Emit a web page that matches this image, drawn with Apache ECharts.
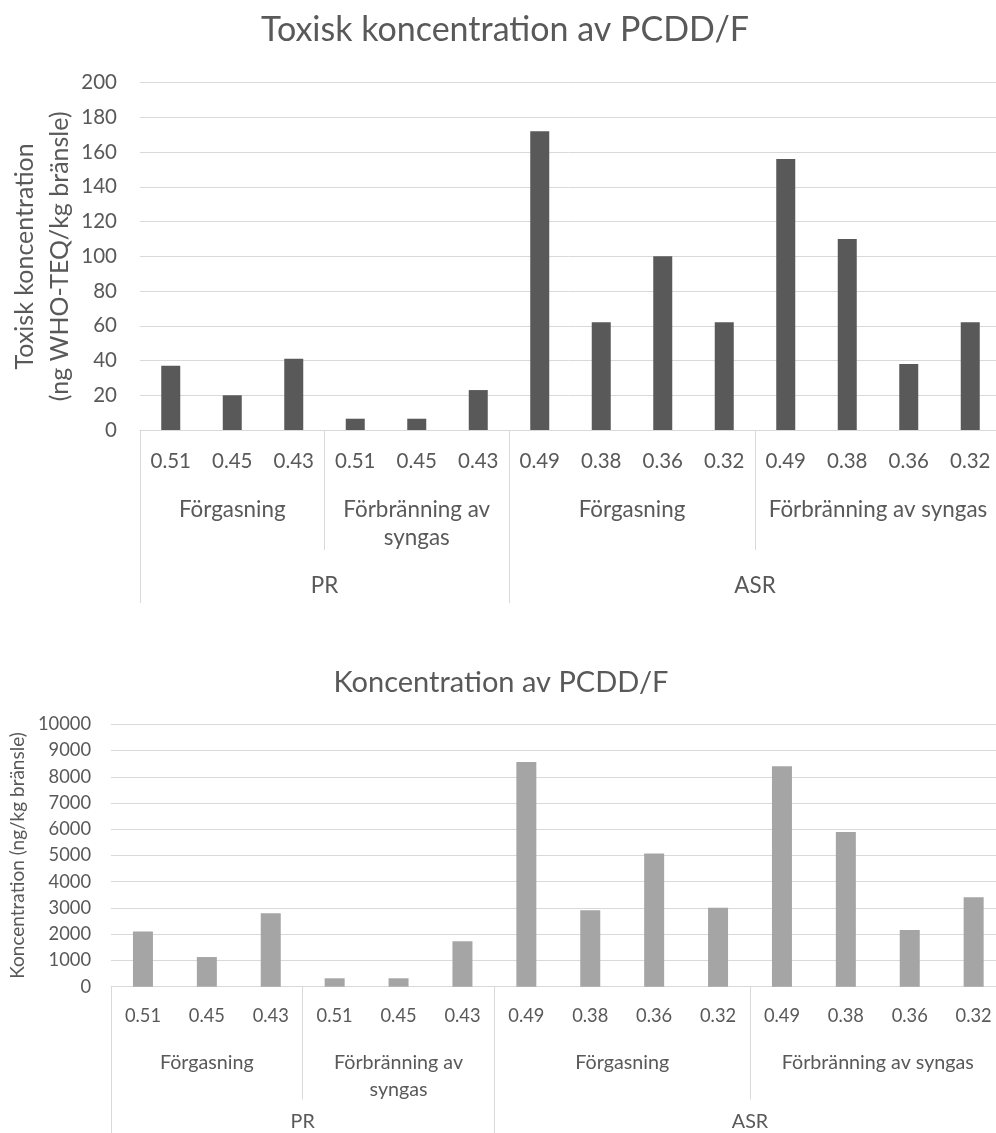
<!DOCTYPE html>
<html>
<head>
<meta charset="utf-8">
<script src="https://cdn.jsdelivr.net/npm/echarts@6/dist/echarts.min.js"></script>
<style>
  html, body { margin: 0; padding: 0; background: #ffffff; }
  #chart { width: 996px; height: 1133px; }
</style>
</head>
<body>
<div id="chart"></div>
<script>
// Equivalence-ratio categories (lowest axis level)
const tickLabels = ['0.51', '0.45', '0.43', '0.51', '0.45', '0.43',
                    '0.49', '0.38', '0.36', '0.32', '0.49', '0.38', '0.36', '0.32'];
// Process step groups and how many categories each spans
const processGroups = ['Förgasning', 'Förbränning av\nsyngas', 'Förgasning', 'Förbränning av syngas'];
const processSizes = [3, 3, 4, 4];
// Fuel groups and how many categories each spans
const fuelGroups = ['PR', 'ASR'];
const fuelSizes = [6, 8];

// Toxic concentration, ng WHO-TEQ/kg fuel
const toxicValues = [37, 20, 41, 6.5, 6.5, 23, 172, 62, 100, 62, 156, 110, 38, 62];
// Total concentration, ng/kg fuel
const concValues = [2100, 1130, 2800, 320, 320, 1730, 8560, 2910, 5080, 3010, 8400, 5900, 2160, 3410];

const FONT = 'Lato';
const TEXT = '#595959';
const GRID_LINE = '#d9d9d9';

// Boundaries and centres of grouped spans in category units
function spans(sizes) {
  const bounds = [0];
  const centres = [];
  sizes.forEach(s => {
    const start = bounds[bounds.length - 1];
    centres.push(start + s / 2);
    bounds.push(start + s);
  });
  return { bounds, centres };
}
const proc = spans(processSizes);
const fuel = spans(fuelSizes);

function groupAxis(gridIndex, names, sp, tickLen, margin, fontSize, lineHeight) {
  const lookup = {};
  sp.centres.forEach((c, i) => { lookup[c] = names[i]; });
  return {
    type: 'value', gridIndex, position: 'bottom',
    min: 0, max: tickLabels.length,
    axisLine: { show: false },
    splitLine: { show: false },
    axisTick: { show: true, customValues: sp.bounds, length: tickLen,
                lineStyle: { color: GRID_LINE, width: 1 } },
    axisLabel: { show: true, customValues: sp.centres, margin,
                 formatter: v => lookup[v] || '',
                 color: TEXT, fontFamily: FONT, fontSize, lineHeight, align: 'center' }
  };
}

function categoryAxis(gridIndex, margin, fontSize, lineHeight) {
  return {
    type: 'category', gridIndex, position: 'bottom',
    data: tickLabels,
    axisLine: { show: true, lineStyle: { color: GRID_LINE, width: 1 } },
    axisTick: { show: false },
    axisLabel: { interval: 0, margin, color: TEXT, fontFamily: FONT, fontSize, lineHeight }
  };
}

const chart = echarts.init(document.getElementById('chart'), null, { renderer: 'canvas' });

chart.setOption({
  animation: false,
  backgroundColor: '#ffffff',
  graphic: [
    { type: 'text', x: 505, y: 30,
      style: { text: 'Toxisk koncentration av PCDD/F', fill: TEXT, font: '34px ' + FONT,
               textAlign: 'center', textVerticalAlign: 'middle', align: 'center', verticalAlign: 'middle' } },
    { type: 'text', x: 501, y: 683,
      style: { text: 'Koncentration av PCDD/F', fill: TEXT, font: '29px ' + FONT,
               textAlign: 'center', textVerticalAlign: 'middle', align: 'center', verticalAlign: 'middle' } }
  ],
  grid: [
    { left: 140, top: 82.7, width: 861, height: 347.3, outerBoundsMode: 'none' },
    { left: 111, top: 724.3, width: 894.6, height: 262.4, outerBoundsMode: 'none' }
  ],
  xAxis: [
    categoryAxis(0, 17.7, 20.5, 28),
    groupAxis(0, processGroups, proc, 120, 66, 22.4, 28),
    groupAxis(0, fuelGroups, fuel, 173, 142, 22.4, 28),
    categoryAxis(1, 15.8, 18.3, 27),
    groupAxis(1, processGroups, proc, 113, 62.8, 19.7, 27),
    groupAxis(1, fuelGroups, fuel, 150, 121.8, 19.7, 27)
  ],
  yAxis: [
    {
      type: 'value', gridIndex: 0, min: 0, max: 200, interval: 20,
      axisLine: { show: false }, axisTick: { show: false },
      splitLine: { lineStyle: { color: GRID_LINE, width: 1 } },
      axisLabel: { margin: 23, color: TEXT, fontFamily: FONT, fontSize: 20.5 },
      name: 'Toxisk koncentration\n(ng WHO-TEQ/kg bränsle)',
      nameLocation: 'middle', nameRotate: 90, nameGap: 62.5, nameMoveOverlap: false,
      nameTextStyle: { color: TEXT, fontFamily: FONT, fontSize: 25, lineHeight: 35 }
    },
    {
      type: 'value', gridIndex: 1, min: 0, max: 10000, interval: 1000,
      axisLine: { show: false }, axisTick: { show: false },
      splitLine: { lineStyle: { color: GRID_LINE, width: 1 } },
      axisLabel: { margin: 20, color: TEXT, fontFamily: FONT, fontSize: 18.3,
                   formatter: v => String(v) },
      name: 'Koncentration (ng/kg bränsle)',
      nameLocation: 'middle', nameRotate: 90, nameGap: 82, nameMoveOverlap: false,
      nameTextStyle: { color: TEXT, fontFamily: FONT, fontSize: 19, lineHeight: 22 }
    }
  ],
  series: [
    { type: 'bar', xAxisIndex: 0, yAxisIndex: 0, data: toxicValues,
      barWidth: 19, itemStyle: { color: '#595959' } },
    { type: 'bar', xAxisIndex: 3, yAxisIndex: 1, data: concValues,
      barWidth: 20, itemStyle: { color: '#a5a5a5' } }
  ]
});
</script>
</body>
</html>
